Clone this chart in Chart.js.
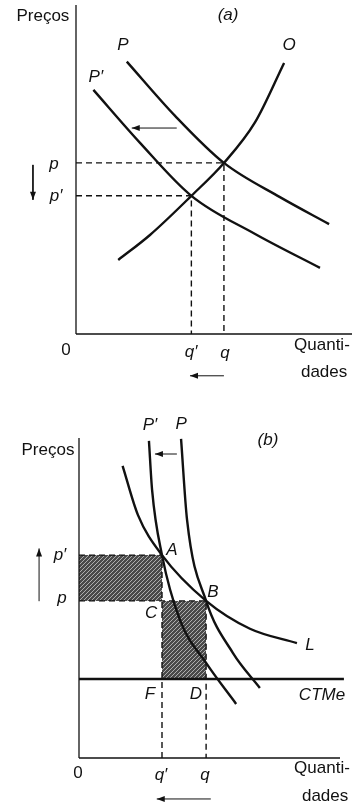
<!DOCTYPE html>
<html>
<head>
<meta charset="utf-8">
<script src="https://cdn.jsdelivr.net/npm/chart.js@4/dist/chart.umd.min.js"></script>
<style>
  html, body { margin: 0; padding: 0; background: #fff; }
  #wrap { position: relative; width: 358px; height: 803px; overflow: hidden; }
  canvas { position: absolute; left: 0; }
  #chartA { top: 0; }
  #chartB { top: 400px; }
</style>
</head>
<body>
<div id="wrap">
  <canvas id="chartA" width="358" height="400"></canvas>
  <canvas id="chartB" width="358" height="403"></canvas>
</div>
<script>
//-------------------------------------------------- Data (a)
// equilibrium points (units: 0..10 on each axis)
const qA = 5.36, pA = 5.20;      // q, p
const qA2 = 4.18, pA2 = 4.20;    // q', p'

const demandA_x  = [1.84, 3.59, 5.36, 7.39, 9.17];
const demandA_y  = [8.28, 6.63, 5.20, 4.16, 3.34];
const demandA2_x = [0.63, 2.32, 4.18, 6.49, 8.84];
const demandA2_y = [7.42, 5.81, 4.20, 3.04, 2.01];
const supplyA_x  = [1.53, 2.68, 4.18, 5.36, 6.49, 7.54];
const supplyA_y  = [2.25, 3.01, 4.20, 5.20, 6.44, 8.24];

//-------------------------------------------------- Data (b)
const qB = 4.87, pB = 4.91;      // B
const qB2 = 3.18, pB2 = 6.34;    // A
const ctme = 2.47;

const demandB_x  = [3.91, 4.14, 4.87, 5.90, 6.93];
const demandB_y  = [9.97, 7.44, 4.91, 3.28, 2.19];
const demandB2_x = [2.68, 2.80, 3.18, 3.87, 4.87, 6.02];
const demandB2_y = [9.91, 8.38, 6.34, 4.31, 2.97, 1.69];
const curveL_x   = [1.67, 2.26, 3.18, 4.87, 6.55, 8.35];
const curveL_y   = [9.13, 7.59, 6.34, 4.91, 4.04, 3.59];

//-------------------------------------------------- Text
const it = "italic 17px 'Liberation Sans', Arial, sans-serif";
const rm = "17px 'Liberation Sans', Arial, sans-serif";
const labelsA = [
  {t: "Preços", x: -1.20, y: 9.67, f: rm},
  {t: "(a)", x: 5.51, y: 9.70, f: it},
  {t: "P", x: 1.70, y: 8.78, f: it},
  {t: "P′", x: 0.72, y: 7.81, f: it},
  {t: "O", x: 7.72, y: 8.78, f: it},
  {t: "p", x: -0.80, y: 5.17, f: it},
  {t: "p′", x: -0.72, y: 4.19, f: it},
  {t: "0", x: -0.36, y: -0.49, f: rm},
  {t: "q′", x: 4.17, y: -0.55, f: it},
  {t: "q", x: 5.40, y: -0.58, f: it},
  {t: "Quanti-", x: 8.91, y: -0.33, f: rm},
  {t: "dades", x: 8.99, y: -1.16, f: rm}
];
const labelsB = [
  {t: "Preços", x: -1.19, y: 9.63, f: rm},
  {t: "(b)", x: 7.24, y: 9.94, f: it},
  {t: "P′", x: 2.72, y: 10.41, f: it},
  {t: "P", x: 3.91, y: 10.44, f: it},
  {t: "A", x: 3.56, y: 6.50, f: it},
  {t: "B", x: 5.13, y: 5.19, f: it},
  {t: "C", x: 2.76, y: 4.53, f: it},
  {t: "F", x: 2.72, y: 2.00, f: it},
  {t: "D", x: 4.48, y: 2.00, f: it},
  {t: "CTMe", x: 9.31, y: 1.97, f: it},
  {t: "L", x: 8.85, y: 3.53, f: it},
  {t: "p′", x: -0.73, y: 6.34, f: it},
  {t: "p", x: -0.65, y: 5.00, f: it},
  {t: "0", x: -0.04, y: -0.47, f: rm},
  {t: "q′", x: 3.14, y: -0.53, f: it},
  {t: "q", x: 4.83, y: -0.53, f: it},
  {t: "Quanti-", x: 9.31, y: -0.31, f: rm},
  {t: "dades", x: 9.43, y: -1.19, f: rm}
];

//-------------------------------------------------- Helpers
const INK = "#111";
const zip = (xs, ys) => xs.map((x, i) => ({x: x, y: ys[i]}));

// frame in canvas pixels -> scale limits, 10 units along each axis
function limits(f) {
  const kx = (f.right - f.left) / 10, ky = (f.bottom - f.top) / 10;
  return {
    x: {min: -f.left / kx, max: (f.w - f.left) / kx},
    y: {min: -(f.h - f.bottom) / ky, max: f.bottom / ky}
  };
}

function hatch() {
  const c = document.createElement("canvas");
  c.width = 4; c.height = 4;
  const g = c.getContext("2d");
  g.fillStyle = "#4a4a4a";
  g.fillRect(0, 0, 4, 4);
  g.strokeStyle = "#c8c8c8";
  g.lineWidth = 0.8;
  g.beginPath();
  g.moveTo(-1, 5); g.lineTo(5, -1);
  g.moveTo(-1, 1); g.lineTo(1, -1);
  g.moveTo(3, 5); g.lineTo(5, 3);
  g.stroke();
  return g.createPattern(c, "repeat");
}

const curve = (data) => ({data: data, borderColor: INK, borderWidth: 2.4, cubicInterpolationMode: "monotone", pointRadius: 0});
const solid = (data, w) => ({data: data, borderColor: INK, borderWidth: w || 1.4, pointRadius: 0});
const dashed = (data) => ({data: data, borderColor: INK, borderWidth: 1.4, borderDash: [6, 4], pointRadius: 0});
const arrow = (data) => ({data: data, borderColor: INK, borderWidth: 1, pointRadius: 0, arrow: true});

const textPlugin = {
  id: "texts",
  afterDraw(chart, args, opts) {
    const ctx = chart.ctx, sx = chart.scales.x, sy = chart.scales.y;
    ctx.save();
    ctx.fillStyle = INK;
    ctx.textAlign = "center";
    ctx.textBaseline = "middle";
    opts.items.forEach(l => {
      ctx.font = l.f;
      ctx.fillText(l.t, sx.getPixelForValue(l.x), sy.getPixelForValue(l.y));
    });
    ctx.restore();
  }
};

const arrowPlugin = {
  id: "arrowheads",
  afterDatasetsDraw(chart) {
    const ctx = chart.ctx;
    chart.data.datasets.forEach((ds, i) => {
      if (!ds.arrow) return;
      const pts = chart.getDatasetMeta(i).data;
      const a = pts[pts.length - 2], b = pts[pts.length - 1];
      const ang = Math.atan2(b.y - a.y, b.x - a.x);
      ctx.save();
      ctx.translate(b.x, b.y);
      ctx.rotate(ang);
      ctx.fillStyle = INK;
      ctx.beginPath();
      ctx.moveTo(0, 0);
      ctx.lineTo(-8, -3);
      ctx.lineTo(-8, 3);
      ctx.closePath();
      ctx.fill();
      ctx.restore();
    });
  }
};

function build(id, frame, datasets, labels) {
  const lim = limits(frame);
  return new Chart(document.getElementById(id), {
    type: "scatter",
    data: {datasets: datasets.map(d => Object.assign({showLine: true}, d))},
    options: {
      responsive: false,
      animation: false,
      devicePixelRatio: 1,
      layout: {padding: 0},
      scales: {
        x: {type: "linear", display: false, min: lim.x.min, max: lim.x.max},
        y: {type: "linear", display: false, min: lim.y.min, max: lim.y.max}
      },
      plugins: {
        legend: {display: false},
        tooltip: {enabled: false},
        filler: {drawTime: "beforeDatasetsDraw"},
        texts: {items: labels}
      },
      elements: {line: {fill: false}}
    },
    plugins: [textPlugin, arrowPlugin]
  });
}

//-------------------------------------------------- Chart (a)
build("chartA", {left: 76, bottom: 334, right: 352, top: 5, w: 358, h: 400}, [
  curve(zip(demandA_x, demandA_y)),
  curve(zip(demandA2_x, demandA2_y)),
  curve(zip(supplyA_x, supplyA_y)),
  solid([{x: 0, y: 0}, {x: 0, y: 10}], 1.3),
  solid([{x: 0, y: 0}, {x: 10, y: 0}], 1.3),
  dashed([{x: 0, y: pA}, {x: qA, y: pA}, {x: qA, y: 0}]),
  dashed([{x: 0, y: pA2}, {x: qA2, y: pA2}, {x: qA2, y: 0}]),
  arrow([{x: 3.65, y: 6.26}, {x: 2.02, y: 6.26}]),
  arrow([{x: 5.36, y: -1.27}, {x: 4.13, y: -1.27}]),
  arrow([{x: -1.56, y: 5.14}, {x: -1.56, y: 4.08}])
], labelsA);

//-------------------------------------------------- Chart (b)
const pat = hatch();
build("chartB", {left: 79, bottom: 358, right: 340, top: 38, w: 358, h: 403}, [
  curve(zip(demandB_x, demandB_y)),
  curve(zip(demandB2_x, demandB2_y)),
  curve(zip(curveL_x, curveL_y)),
  solid([{x: 0, y: ctme}, {x: 10.15, y: ctme}], 2.4),
  solid([{x: 0, y: 0}, {x: 0, y: 10}], 1.3),
  solid([{x: 0, y: 0}, {x: 10, y: 0}], 1.3),
  dashed([{x: 0, y: pB2}, {x: qB2, y: pB2}, {x: qB2, y: 0}]),
  dashed([{x: 0, y: pB}, {x: qB, y: pB}, {x: qB, y: 0}]),
  arrow([{x: 3.75, y: 9.5}, {x: 2.91, y: 9.5}]),
  arrow([{x: 5.05, y: -1.28}, {x: 2.98, y: -1.28}]),
  arrow([{x: -1.53, y: 4.9}, {x: -1.53, y: 6.55}]),
  {data: [{x: 0, y: pB2}, {x: qB2, y: pB2}], borderWidth: 0, pointRadius: 0, backgroundColor: pat, fill: {value: pB}},
  {data: [{x: qB2, y: pB}, {x: qB, y: pB}], borderWidth: 0, pointRadius: 0, backgroundColor: pat, fill: {value: ctme}}
], labelsB);
</script>
</body>
</html>
